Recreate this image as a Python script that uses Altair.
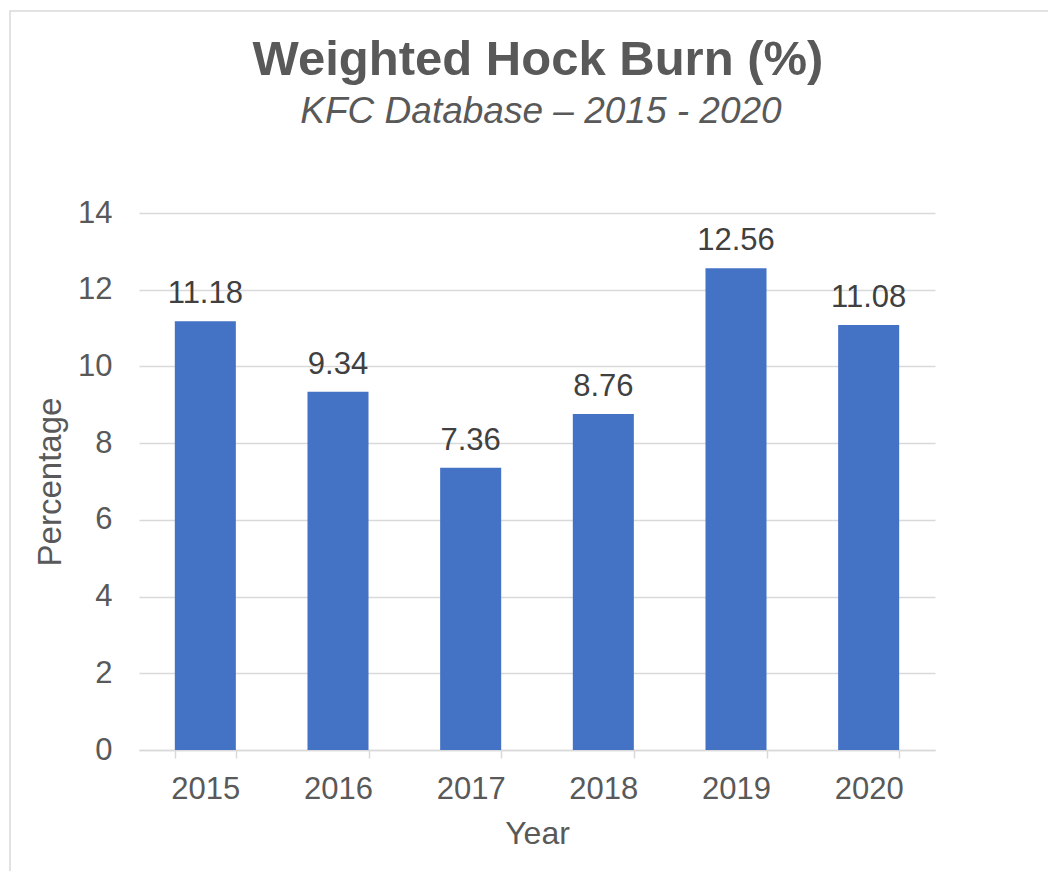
import altair as alt
import pandas as pd

years = ["2015", "2016", "2017", "2018", "2019", "2020"]
values = [11.18, 9.34, 7.36, 8.76, 12.56, 11.08]
y_ticks = [0, 2, 4, 6, 8, 10, 12, 14]
title_text = "Weighted Hock Burn (%)"
subtitle_text = "KFC Database – 2015 - 2020"

df = pd.DataFrame({"Year": years, "Percentage": values})

FONT = "Liberation Sans"
GREY = "#595959"
W, H = 796, 537

x_enc = alt.X(
    "Year:N",
    title="Year",
    sort=years,
    scale=alt.Scale(paddingInner=0.54, paddingOuter=0.27),
    axis=alt.Axis(
        labelAngle=0,
        labelFont=FONT,
        labelFontSize=31,
        labelColor=GREY,
        labelPadding=16,
        titleFont=FONT,
        titleFontSize=32,
        titleFontWeight="normal",
        titleColor=GREY,
        titlePadding=14,
        domainColor="#d9d9d9",
        domainWidth=1.5,
        tickColor="#d9d9d9",
        tickWidth=1.5,
        tickSize=8,
        tickBand="extent",
        grid=False,
    ),
)
y_enc = alt.Y(
    "Percentage:Q",
    title="Percentage",
    scale=alt.Scale(domain=[0, 14], nice=False),
    axis=alt.Axis(
        values=y_ticks,
        labelFont=FONT,
        labelFontSize=31,
        labelColor=GREY,
        labelPadding=27,
        titleFont=FONT,
        titleFontSize=33,
        titleFontWeight="normal",
        titleColor=GREY,
        titlePadding=10,
        domain=False,
        ticks=False,
        gridColor="#d9d9d9",
        gridWidth=1.5,
    ),
)

bars = alt.Chart(df).mark_bar(color="#4472C4").encode(x=x_enc, y=y_enc)

labels = alt.Chart(df).mark_text(
    font=FONT, fontSize=31, color="#404040", baseline="alphabetic", dy=-18
).encode(
    x=alt.X("Year:N", sort=years),
    y=alt.Y("Percentage:Q"),
    text=alt.Text("Percentage:Q", format=".2f"),
)

border = alt.Chart(alt.Data(values=[{}])).mark_rect(
    fill=None, stroke="#d9d9d9", strokeWidth=1.5
).encode(
    x=alt.value(-129), x2=alt.value(915), y=alt.value(-202), y2=alt.value(720)
)

title_mark = alt.Chart(alt.Data(values=[{"t": title_text}])).mark_text(
    font=FONT, fontSize=49, fontWeight="bold", color=GREY,
    align="center", baseline="alphabetic"
).encode(x=alt.value(W / 2 + 1), y=alt.value(-138), text="t:N")

subtitle_mark = alt.Chart(alt.Data(values=[{"t": subtitle_text}])).mark_text(
    font=FONT, fontSize=37, fontStyle="italic", color=GREY,
    align="center", baseline="alphabetic"
).encode(x=alt.value(W / 2 + 4), y=alt.value(-90), text="t:N")

chart = alt.layer(border, bars, labels, title_mark, subtitle_mark).properties(
    width=W,
    height=H,
    autosize=alt.AutoSizeParams(type="none"),
    padding={"left": 131, "top": 205, "right": 113, "bottom": 121},
).configure(background="white", view=alt.ViewConfig(stroke="transparent"))

chart.save("out.html", embed_options={"renderer": "svg", "actions": False})
